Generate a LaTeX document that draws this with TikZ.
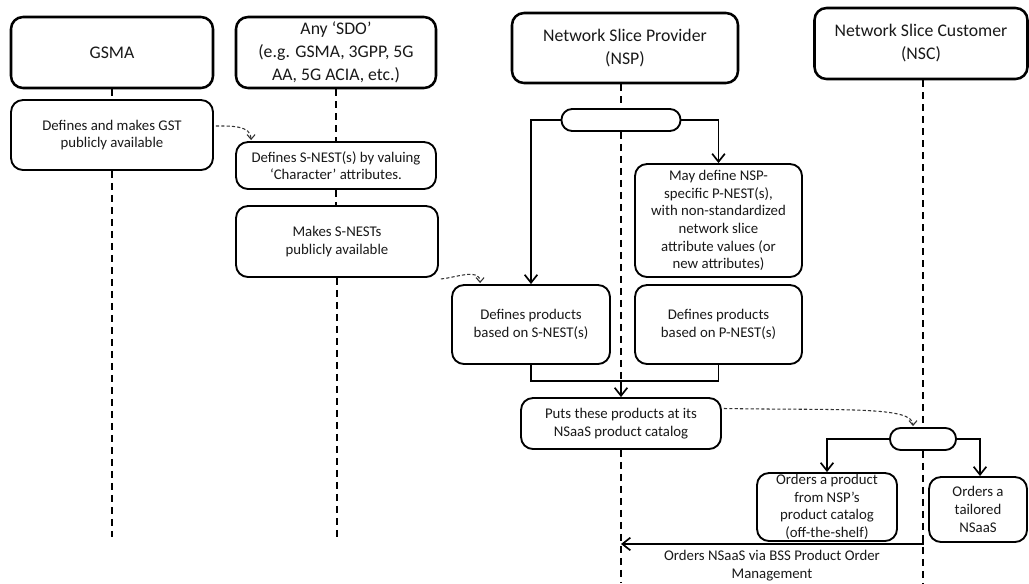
\documentclass[tikz,border=0pt]{standalone}
\usepackage{fontspec}
\setmainfont{Carlito}
\usetikzlibrary{arrows.meta,calc}
\newcommand\myhdr{\fontsize{13.3}{17.2}\selectfont}
\newcommand\mybody{\fontsize{11.1}{13.2}\selectfont}
\begin{document}
\begin{tikzpicture}[x=0.75pt,y=-0.75pt,
  hdr/.style={draw, line width=1.9pt, rounded corners=9pt, align=center, font=\myhdr, inner sep=0pt, text=black!90},
  box/.style={draw, line width=1.4pt, rounded corners=9pt, align=center, font=\mybody, inner sep=0pt, text=black!90},
  oval/.style={draw, line width=1.4pt, rounded corners=8pt, inner sep=0pt, minimum height=16.5pt},
  life/.style={line width=1.5pt, dash pattern=on 5pt off 4pt},
  conn/.style={line width=1.25pt},
  arr/.style={line width=1.25pt, -{Straight Barb[length=6pt,width=9.5pt]}},
  dcurve/.style={line width=0.8pt, black!80, dash pattern=on 2.4pt off 1.6pt, -{Straight Barb[length=3.5pt,width=6pt]}}
]
\useasboundingbox (0,0) rectangle (1029,583);
\fill[white] (0,0) rectangle (1029,583);

% headers
\node[hdr, minimum width=151.5pt, minimum height=53.25pt] (gsma) at (112,52.5) {GSMA};
\node[hdr, minimum width=150pt, minimum height=53.25pt] (sdo) at (336,52.5) {Any ‘SDO’\\(e.g. GSMA, 3GPP, 5G\\AA, 5G ACIA, etc.)};
\node[hdr, minimum width=169.5pt, minimum height=52.5pt] (nsp) at (625,48) {Network Slice Provider\\(NSP)};
\node[hdr, minimum width=159.75pt, minimum height=53.25pt] (nsc) at (921,43.5) {Network Slice Customer\\(NSC)};

% activity boxes
\node[box, minimum width=151.5pt, minimum height=52.5pt] (gst) at (112,135) {Defines and makes GST\\publicly available};
\node[box, minimum width=150pt, minimum height=35.25pt] (snest) at (336,165.5) {Defines S-NEST(s) by valuing\\‘Character’ attributes.};
\node[box, minimum width=151.5pt, minimum height=53.25pt] (mksnest) at (337,241.5) {Makes S-NESTs\\publicly available};
\node[oval, minimum width=89.25pt] (oval1) at (621,120) {};
\node[box, minimum width=125.25pt, minimum height=84.75pt] (pnest) at (718.5,220.5) {May define NSP-\\specific P-NEST(s),\\with non-standardized\\network slice\\attribute values (or\\new attributes)};
\node[box, minimum width=118.5pt, minimum height=59.25pt] (prodS) at (531,324.5) {Defines products\\based on S-NEST(s)};
\node[box, minimum width=125.25pt, minimum height=59.25pt] (prodP) at (718.5,324.5) {Defines products\\based on P-NEST(s)};
\node[box, minimum width=150pt, minimum height=38.25pt] (puts) at (621,423.5) {Puts these products at its\\NSaaS product catalog};
\node[oval, minimum width=49.5pt] (oval2) at (923,439) {};
\node[box, minimum width=105pt, minimum height=51pt] (ordprod) at (827,507) {Orders a product\\from NSP’s\\product catalog\\(off-the-shelf)};
\node[box, minimum width=73.5pt, minimum height=48.75pt] (tailored) at (978,509.5) {Orders a\\tailored\\NSaaS};

% coordinates
\coordinate (gEnd) at (112,537);
\coordinate (sEnd) at (336.5,537);
\coordinate (j) at (621,381);
\coordinate (pEnd) at (621,583);
\coordinate (cEnd) at (923,583);
\coordinate (os) at (923,540);
\coordinate (oe) at (621,544);

% lifelines
\draw[life] (gsma.south) -- (gst.north);
\draw[life] (gst.south) -- (gEnd);
\draw[life] (sdo.south) -- (snest.north);
\draw[life] (snest.south) -- (mksnest.north -| snest.south);
\draw[life] (mksnest.south -| sEnd) -- (sEnd);
\draw[life] (oval1.north |- nsp.south) -- (oval1.north);
\draw[life] (oval1.south) -- (j);
\draw[life] (puts.south) -- (pEnd);
\draw[life] (oval2.north |- nsc.south) -- (oval2.north);
\draw[life] (oval2.south) -- (cEnd);

% solid connectors
\draw[arr] (oval1.west) -| (prodS.north);
\draw[arr] (oval1.east) -| (pnest.north);
\draw[conn] (prodS.south) |- (j);
\draw[conn] (prodP.south) |- (j);
\draw[arr] (j) -- (puts.north);
\draw[arr] (oval2.west) -| (ordprod.north);
\draw[arr] (oval2.east) -| ($(tailored.north)+(2,0)$);
\draw[arr] (os) |- (oe) node[pos=0.75, below=1pt, font=\mybody, align=center, text=black!90] {Orders NSaaS via BSS Product Order\\Management};

% dashed curved arrows
\draw[dcurve] ($(gst.east)+(2,-9)$) to[out=0,in=90] ($(snest.north west)+(16,-1)$);
\draw[dcurve] ($(mksnest.south east)+(2,1)$) to[out=5,in=90] ($(prodS.north west)+(29,-1)$);
\draw[dcurve] ($(puts.east)+(2,-15)$) .. controls +(120,2) and +(0,-20) .. ($(oval2.north)+(-10,-1)$);
\end{tikzpicture}
\end{document}
